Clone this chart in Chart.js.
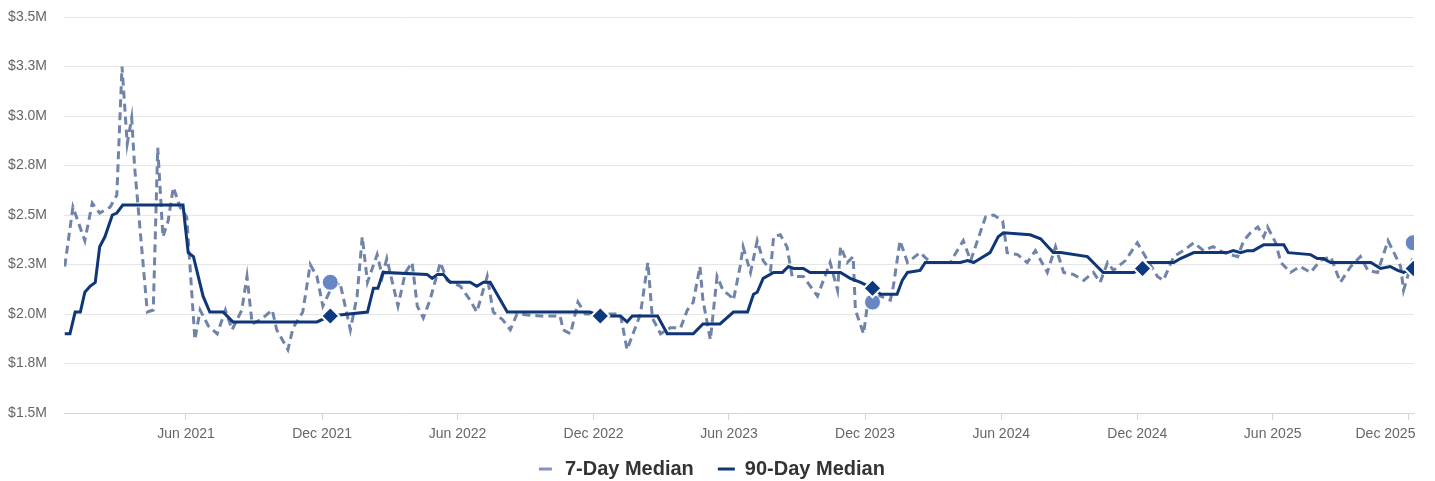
<!DOCTYPE html>
<html>
<head>
<meta charset="utf-8">
<script src="https://cdn.jsdelivr.net/npm/chart.js@4"></script>
<style>
  html, body { margin: 0; padding: 0; background: #fff; }
  #wrap { width: 1435px; height: 481px; }
</style>
</head>
<body>
<div id="wrap"><canvas id="median-chart"></canvas></div>
<script>
// Day 0 of the x axis
var startDate = '2020-12-19';

// Tick labels on the x axis (first of each month)
var tickLabels = ['Jun 2021', 'Dec 2021', 'Jun 2022', 'Dec 2022', 'Jun 2023', 'Dec 2023', 'Jun 2024', 'Dec 2024', 'Jun 2025', 'Dec 2025'];
var tickDates = ['2021-06-01', '2021-12-01', '2022-06-01', '2022-12-01', '2023-06-01', '2023-12-01', '2024-06-01', '2024-12-01', '2025-06-01', '2025-12-01'];

// 7-day median ($M), by day since startDate
var sevenDayDays = [1, 12, 28, 38, 48, 62, 71, 78, 85, 91, 95, 112, 120, 126, 133, 140, 147, 156, 165, 176,
    183, 194, 206, 217, 226, 239, 246, 253, 264, 280, 286, 301, 308, 321, 331, 340, 348, 358, 371, 385,
    394, 401, 408, 421, 428, 434, 449, 459, 468, 475, 483, 492, 506, 515, 533, 546, 555, 569, 577, 590,
    600, 609, 640, 667, 671, 681, 691, 701, 717, 734, 748, 757, 765, 775, 785, 791, 802, 815, 829, 838,
    846, 855, 859, 869, 878, 886, 896, 900, 909, 913, 923, 932, 940, 950, 954, 963, 972, 979, 994, 1013,
    1021, 1030, 1040, 1044, 1053, 1061, 1064, 1075, 1081, 1098, 1111, 1115, 1124, 1134, 1151, 1165, 1192, 1196, 1209, 1219,
    1228, 1239, 1250, 1262, 1268, 1282, 1295, 1306, 1322, 1333, 1344, 1357, 1371, 1384, 1393, 1403, 1411, 1427, 1443, 1457,
    1470, 1478, 1492, 1505, 1519, 1532, 1545, 1559, 1578, 1586, 1595, 1605, 1613, 1618, 1629, 1636, 1649, 1662, 1676, 1689,
    1703, 1716, 1730, 1743, 1753, 1766, 1780, 1788, 1797, 1801, 1808, 1813];
var sevenDayValues = [2.24, 2.54, 2.37, 2.56, 2.51, 2.54, 2.60, 3.25, 2.86, 2.99, 2.74, 2.01, 2.02, 2.84, 2.39, 2.47, 2.64, 2.54, 2.49, 1.87,
    2.02, 1.94, 1.90, 2.02, 1.92, 2.02, 2.19, 1.95, 1.97, 2.02, 1.92, 1.82, 1.93, 2.01, 2.25, 2.19, 2.04, 2.12, 2.16, 1.92,
    2.09, 2.39, 2.16, 2.30, 2.19, 2.28, 2.04, 2.21, 2.26, 2.04, 1.98, 2.07, 2.26, 2.17, 2.14, 2.07, 2.01, 2.19, 2.01, 1.97,
    1.92, 2.00, 1.99, 1.99, 1.92, 1.90, 2.06, 2.00, 2.00, 2.00, 2.00, 1.82, 1.90, 2.00, 2.26, 1.98, 1.90, 1.93, 1.93, 2.02,
    2.06, 2.24, 2.07, 1.87, 2.19, 2.12, 2.09, 2.07, 2.24, 2.34, 2.21, 2.37, 2.27, 2.22, 2.39, 2.40, 2.34, 2.19, 2.19, 2.09,
    2.17, 2.26, 2.12, 2.34, 2.26, 2.29, 2.02, 1.90, 2.07, 2.09, 2.07, 2.14, 2.37, 2.26, 2.31, 2.26, 2.26, 2.29, 2.37, 2.27,
    2.37, 2.49, 2.50, 2.47, 2.31, 2.30, 2.26, 2.32, 2.21, 2.34, 2.21, 2.20, 2.17, 2.21, 2.16, 2.26, 2.22, 2.27, 2.36, 2.27,
    2.19, 2.17, 2.29, 2.32, 2.36, 2.32, 2.34, 2.31, 2.29, 2.37, 2.41, 2.44, 2.39, 2.44, 2.36, 2.26, 2.21, 2.24, 2.21, 2.27,
    2.29, 2.16, 2.24, 2.29, 2.22, 2.21, 2.37, 2.31, 2.24, 2.12, 2.21, 2.28];

// 90-day median ($M)
var ninetyDayDays = [1, 8, 15, 22, 28, 35, 42, 48, 55, 65, 71, 79, 160, 167, 174, 187, 196, 214, 227, 340,
    358, 408, 416, 422, 429, 488, 495, 502, 510, 519, 546, 555, 564, 573, 596, 707, 721, 748, 757, 764,
    798, 811, 846, 859, 882, 900, 919, 927, 932, 940, 954, 966, 974, 981, 994, 1003, 1044, 1057, 1071, 1087,
    1098, 1120, 1127, 1134, 1151, 1158, 1205, 1215, 1223, 1232, 1245, 1256, 1263, 1299, 1313, 1330, 1340, 1376, 1389, 1397,
    1438, 1450, 1457, 1492, 1501, 1519, 1564, 1572, 1582, 1591, 1599, 1613, 1640, 1646, 1676, 1685, 1693, 1703, 1757, 1770,
    1783, 1793, 1801, 1814];
var ninetyDayValues = [1.90, 1.90, 2.01, 2.01, 2.11, 2.14, 2.16, 2.34, 2.39, 2.50, 2.51, 2.55, 2.55, 2.31, 2.29, 2.09, 2.01, 2.01, 1.96, 1.96,
    1.99, 2.01, 2.13, 2.13, 2.21, 2.20, 2.18, 2.20, 2.20, 2.16, 2.16, 2.14, 2.16, 2.16, 2.01, 2.01, 1.99, 1.99, 1.96, 1.99,
    1.99, 1.90, 1.90, 1.95, 1.95, 2.01, 2.01, 2.10, 2.11, 2.18, 2.21, 2.21, 2.24, 2.23, 2.23, 2.21, 2.21, 2.18, 2.16, 2.13,
    2.10, 2.10, 2.17, 2.21, 2.22, 2.26, 2.26, 2.27, 2.26, 2.28, 2.31, 2.39, 2.41, 2.40, 2.38, 2.31, 2.31, 2.29, 2.24, 2.21,
    2.21, 2.23, 2.26, 2.26, 2.28, 2.31, 2.31, 2.32, 2.31, 2.32, 2.32, 2.35, 2.35, 2.31, 2.30, 2.28, 2.28, 2.26, 2.26, 2.23,
    2.24, 2.22, 2.21, 2.23];

// Year-over-year markers
var markerDays = [358, 721, 1087, 1450, 1814];
var marker7Day = [2.16, null, 2.06, null, 2.36];
var marker90Day = [1.99, 1.99, 2.13, 2.23, 2.23];

var fontFamily = '"Liberation Sans", Arial, sans-serif';

function daysFromStart(dateStr) {
    return Math.round((Date.parse(dateStr) - Date.parse(startDate)) / 86400000);
}
var tickDays = tickDates.map(daysFromStart);

function toPoints(days, values) {
    return days.map(function(d, i) {
        return { x: d, y: values[i] };
    });
}

var ctx = document.getElementById('median-chart').getContext('2d');
var medianChart = new Chart(ctx, {
    type: 'line',
    data: {
        datasets: [{
            label: '7-Day Median',
            data: toPoints(sevenDayDays, sevenDayValues),
            borderColor: '#7083a8',
            borderWidth: 3,
            borderDash: [8, 5],
            pointRadius: 0,
            tension: 0,
            order: 4
        }, {
            label: '90-Day Median',
            data: toPoints(ninetyDayDays, ninetyDayValues),
            borderColor: '#0f3677',
            borderWidth: 3,
            pointRadius: 0,
            tension: 0,
            order: 3
        }, {
            label: '7-Day marker',
            data: toPoints(markerDays, marker7Day),
            showLine: false,
            pointStyle: 'circle',
            pointRadius: 8,
            pointBackgroundColor: '#6886c3',
            pointBorderColor: '#ffffff',
            pointBorderWidth: 1,
            order: 2
        }, {
            label: '90-Day marker',
            data: toPoints(markerDays, marker90Day),
            showLine: false,
            pointStyle: 'rectRot',
            pointRadius: 9,
            pointBackgroundColor: '#0c3a80',
            pointBorderColor: '#ffffff',
            pointBorderWidth: 2,
            order: 1
        }]
    },
    options: {
        responsive: true,
        maintainAspectRatio: false,
        animation: false,
        layout: { padding: { top: 17, left: 8, right: 21, bottom: -8 } },
        plugins: {
            tooltip: { enabled: false },
            legend: {
                position: 'bottom',
                labels: {
                    usePointStyle: true,
                    pointStyleWidth: 40,
                    padding: 1,
                    color: '#333333',
                    font: { family: fontFamily, size: 20, weight: 'bold' },
                    generateLabels: function() {
                        return [
                            { text: '7-Day Median', pointStyle: 'line', strokeStyle: '#8791c0', lineWidth: 3, lineDash: [0, 24, 13, 100], fontColor: '#333333', datasetIndex: 0 },
                            { text: '90-Day Median    ', pointStyle: 'line', strokeStyle: '#0f3677', lineWidth: 3, lineDash: [0, 23, 20, 100], fontColor: '#333333', datasetIndex: 1 }
                        ];
                    }
                }
            }
        },
        scales: {
            x: {
                type: 'linear',
                min: 0,
                max: 1815,
                afterBuildTicks: function(scale) {
                    scale.ticks = tickDays.map(function(d) { return { value: d }; });
                },
                afterFit: function(scale) {
                    scale.height = 45;
                    scale.paddingLeft = 0;
                    scale.paddingRight = 0;
                },
                grid: { drawOnChartArea: false, drawTicks: true, tickLength: 7, color: '#ccd6eb' },
                border: { display: true, color: '#ccd6eb' },
                ticks: {
                    autoSkip: false,
                    maxRotation: 0,
                    color: '#666666',
                    padding: 6,
                    font: { family: fontFamily, size: 14 },
                    callback: function(value, index) {
                        // keep the last label inside the canvas
                        if (index === tickLabels.length - 1) {
                            return tickLabels[index] + '            ';
                        }
                        return tickLabels[index];
                    }
                }
            },
            y: {
                min: 1.5,
                max: 3.5,
                afterFit: function(scale) {
                    scale.width = 56;
                    scale.paddingTop = 0;
                    scale.paddingBottom = 0;
                },
                grid: { color: '#e6e6e6', drawTicks: false },
                border: { display: false },
                ticks: {
                    stepSize: 0.25,
                    color: '#666666',
                    padding: 17,
                    font: { family: fontFamily, size: 14 },
                    callback: function(value) { return '$' + value.toFixed(1) + 'M'; }
                }
            }
        }
    }
});
</script>
</body>
</html>
